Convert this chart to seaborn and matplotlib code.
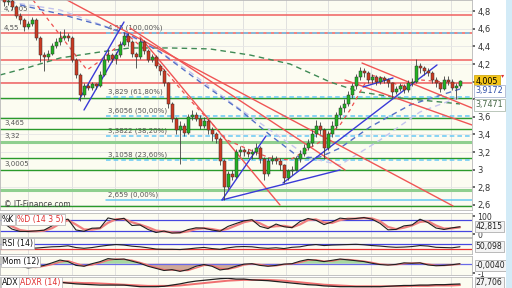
import numpy as np
import pandas as pd
import matplotlib
matplotlib.use("Agg")
import matplotlib.pyplot as plt
import matplotlib.transforms as mtransforms
from matplotlib.patches import Rectangle
import seaborn as sns

sns.set_theme(style="white")
plt.rcParams['font.family'] = ['DejaVu Sans']

# ---------------- data ----------------
first_open = 4.98
closes = [4.90,4.92,4.85,4.75,4.70,4.62,4.66,4.70,4.50,4.30,
          4.28,4.32,4.40,4.45,4.50,4.52,4.50,4.25,4.08,3.85,
          3.95,3.93,3.97,3.95,4.08,4.25,4.30,4.26,4.30,4.42,
          4.52,4.45,4.32,4.28,4.45,4.35,4.25,4.28,4.18,4.12,
          3.98,3.75,3.58,3.45,3.50,3.42,3.60,3.62,3.58,3.50,
          3.55,3.45,3.40,3.35,3.10,2.80,2.95,2.92,3.20,3.22,
          3.20,3.18,3.20,3.25,3.12,2.95,3.10,3.12,3.10,3.05,
          2.90,2.98,3.00,3.12,3.18,3.25,3.30,3.40,3.50,3.45,
          3.25,3.40,3.50,3.62,3.70,3.75,3.85,3.95,4.05,4.12,
          4.10,4.02,4.05,4.00,4.04,4.02,3.98,3.88,3.92,3.95,
          3.90,3.98,4.00,4.18,4.15,4.12,4.10,4.02,3.98,3.92,
          4.02,4.00,3.93,3.95,4.005]
highs = [5.00,4.96,4.94,4.87,4.78,4.72,4.69,4.74,4.72,4.52,
         4.34,4.36,4.44,4.50,4.58,4.60,4.55,4.52,4.27,4.10,
         3.98,3.99,4.00,3.99,4.12,4.30,4.37,4.33,4.34,4.46,
         4.57,4.55,4.47,4.34,4.50,4.47,4.37,4.31,4.30,4.20,
         4.14,4.00,3.77,3.60,3.55,3.53,3.63,3.68,3.66,3.62,
         3.60,3.58,3.48,3.43,3.37,3.12,2.99,3.00,3.24,3.27,
         3.25,3.23,3.24,3.30,3.27,3.14,3.14,3.17,3.15,3.13,
         3.07,3.01,3.04,3.16,3.22,3.29,3.35,3.45,3.56,3.54,
         3.47,3.44,3.55,3.66,3.74,3.80,3.89,3.99,4.09,4.17,
         4.15,4.12,4.09,4.08,4.07,4.06,4.04,4.00,3.95,3.98,
         3.97,4.02,4.04,4.26,4.21,4.18,4.15,4.12,4.05,4.00,
         4.06,4.07,4.03,3.98,4.02]
lows = [4.86,4.87,4.82,4.72,4.66,4.58,4.60,4.63,4.47,4.22,
        4.12,4.25,4.30,4.38,4.42,4.47,4.46,4.22,4.04,3.78,
        3.83,3.90,3.91,3.92,3.94,4.06,4.22,4.22,4.20,4.28,
        4.40,4.40,4.28,4.15,4.26,4.32,4.22,4.22,4.15,4.08,
        3.95,3.70,3.54,3.40,3.07,3.38,3.40,3.56,3.55,3.46,
        3.47,3.40,3.33,3.30,3.05,2.66,2.78,2.88,2.90,3.15,
        3.16,3.14,3.12,3.17,3.08,2.88,2.93,3.07,3.06,3.00,
        2.85,2.88,2.94,2.98,3.09,3.15,3.22,3.27,3.37,3.40,
        3.12,3.22,3.37,3.47,3.58,3.66,3.72,3.82,3.92,4.02,
        4.05,3.98,3.99,3.96,3.97,3.98,3.94,3.82,3.86,3.89,
        3.87,3.88,3.95,3.98,4.10,4.08,4.06,3.98,3.94,3.88,
        3.90,3.96,3.90,3.80,3.93]

# horizontal levels
red_levels = [4.7605, 4.55, 4.247, 3.985]
green_levels = [3.815, 3.587, 3.465, 3.133, 3.0005, 2.588]
green_soft_levels = [3.32, 2.769]
fib_levels = [4.55, 3.829, 3.6056, 3.3822, 3.1058, 2.659]
fib_labels = ["4,55 (100,00%)", "3,829 (61,80%)", "3,6056 (50,00%)",
              "3,3822 (38,20%)", "3,1058 (23,60%)", "2,659 (0,00%)"]
left_label_levels = [4.7605, 4.55, 3.465, 3.32, 3.0005]
left_labels = ["4,7605", "4,55", "3,465", "3,32", "3,0005"]
fib_start_bar = 25.5

# trend lines (bar index, price)
red_tl_x = [[15.75, 112.25], [34, 69], [31.5, 85.25], [89.5, 117], [85.25, 117]]
red_tl_y = [[4.928, 2.588], [4.508, 2.599], [4.610, 2.997], [4.212, 3.701], [4.019, 3.508]]
blue_tl_x = [[18.75, 30], [20, 31], [54.5, 65.5], [54.5, 84], [69.75, 108.25], [89.75, 97.25]]
blue_tl_y = [[3.792, 4.678], [3.678, 4.542], [2.656, 3.383], [2.656, 2.997], [2.849, 4.190], [3.940, 4.042]]

# moving averages (bar, value)
ma_long_x = [-1, 6.5, 14, 24, 31.5, 41.5, 51.5, 61.5, 71.5, 81.5, 89, 99, 106.5, 114]
ma_long_y = [4.076, 4.167, 4.269, 4.337, 4.383, 4.383, 4.372, 4.303, 4.201, 3.997, 3.883, 3.815, 3.781, 3.7471]
ma_mid_x = [4, 14, 24, 31.5, 39, 49, 59, 66.5, 74, 79, 84, 91.5, 101.5, 114]
ma_mid_y = [4.872, 4.769, 4.644, 4.531, 4.337, 3.997, 3.678, 3.394, 3.133, 3.144, 3.246, 3.485, 3.735, 3.9172]
ma_soft_x = [1.5, 14, 26.5, 36.5, 46.5, 56.5, 66.5, 76.5, 84, 94, 104, 114]
ma_soft_y = [4.905, 4.815, 4.610, 4.417, 4.110, 3.769, 3.451, 3.133, 3.053, 3.337, 3.656, 3.826]
ma_short_x = [7.25, 14, 20.75, 23.25, 27.25, 31.5, 37.25, 46.5, 55.75, 61.5, 66.5, 71.5, 79.75, 84, 86.5, 89, 91.5, 95, 99, 104, 109, 114]
ma_short_y = [4.928, 4.531, 4.133, 4.212, 4.360, 4.508, 4.281, 3.792, 3.337, 3.224, 3.133, 3.110, 3.337, 3.508, 3.678, 3.883, 4.076, 4.04, 3.95, 4.02, 4.0, 3.974]

month_starts = [6, 17, 27.75, 38.5, 49.75, 59.75, 70.5, 81, 91.75, 101.75, 111.75]

# indicators, one value every 2 bars
stoch_k = [62,30,17,17,20,24,48,79,85,25,18,35,36,92,82,90,50,53,28,11,
           19,8,10,27,37,35,25,18,45,61,76,82,45,33,58,43,38,72,89,79,
           55,70,91,86,89,94,85,62,26,28,48,53,85,66,36,28,37,42.815]
stoch_d = [66,45,25,18,18,21,35,60,80,55,28,27,34,65,85,86,68,55,40,22,
           17,12,11,18,30,35,30,22,32,50,68,78,62,40,46,48,40,56,80,84,
           67,64,80,88,88,92,89,74,42,30,38,50,70,74,50,33,34,40]
rsi = [38,30,42,38,40,45,50,52,58,44,38,44,54,62,68,64,55,50,42,32,
       30,30,28,33,40,45,36,30,42,50,52,50,42,38,42,36,46,50,62,68,
       60,64,66,68,70,66,60,56,50,46,48,52,60,56,46,44,42,50.098]
mom = [-0.35,-0.2,-0.3,-0.5,-0.4,-0.2,0.1,0.43,0.25,-0.2,-0.3,0.0,0.24,0.6,0.5,0.55,0.3,0.05,-0.3,-0.55,
       -0.8,-0.7,-0.9,-0.7,-0.3,-0.1,-0.3,-0.74,-0.6,-0.3,-0.05,0.0,-0.2,-0.3,-0.2,-0.05,0.0,0.3,0.5,0.4,
       0.25,0.4,0.55,0.45,0.35,0.25,0.05,-0.1,-0.16,-0.08,0.1,0.05,0.1,-0.15,-0.24,-0.2,-0.12,-0.004]
mom_sig = [-0.3,-0.25,-0.25,-0.4,-0.45,-0.3,-0.1,0.2,0.35,0.05,-0.25,-0.15,0.1,0.4,0.55,0.5,0.4,0.15,-0.15,-0.45,
           -0.7,-0.75,-0.8,-0.8,-0.5,-0.2,-0.2,-0.55,-0.65,-0.45,-0.15,-0.02,-0.1,-0.25,-0.25,-0.1,-0.02,0.15,0.4,0.45,
           0.3,0.3,0.5,0.5,0.4,0.3,0.15,-0.05,-0.12,-0.12,0.0,0.08,0.08,-0.05,-0.2,-0.22,-0.15,-0.06]
adx = [25,28,32,34,35,35,34,32,30,28,27,26,25,25,25,25,23,21,21,21,
       22,25,28,32,35,37,39,41,42,40,40,38,37,36,34,32,30,28,26,25,
       23,22,21,21,21,21,21,21,22,23,24,24,25,25,26,26,27,27.706]
adxr = [30,30,30,31,31,32,32,32,31,31,30,30,29,28,27,26,25,24,23,23,
        23,23,24,26,28,30,32,34,36,37,38,38,38,38,37,36,34,32,30,28,
        26,25,24,23,22,22,22,22,22,22,22,23,23,23,24,24,24,25]

# ---------------- figure ----------------
W, H = 512, 288
fig = plt.figure(figsize=(W / 100, H / 100), dpi=100)
fig.patch.set_facecolor("white")
fig.patches.append(Rectangle((506 / W, 0), 6 / W, 1, transform=fig.transFigure,
                             facecolor="#d3ebf7", edgecolor="none", zorder=0))

def rect(x0, y0, x1, y1):
    return [x0 / W, 1 - y1 / H, (x1 - x0) / W, (y1 - y0) / H]

BG = "#fcfcf1"
ax = fig.add_axes(rect(0, 0, 472, 210))
ax1 = fig.add_axes(rect(0, 213, 472, 237))
ax2 = fig.add_axes(rect(0, 238, 472, 254))
ax3 = fig.add_axes(rect(0, 256, 472, 275))
ax4 = fig.add_axes(rect(0, 277, 472, 290))
XL = (-1, 117)
for a in (ax, ax1, ax2, ax3, ax4):
    a.set_facecolor(BG)
    a.set_xlim(*XL)
    a.set_xticks([])
    for s in a.spines.values():
        s.set_color("#b8b8b8")
        s.set_linewidth(0.6)
    for m in month_starts:
        a.axvline(m, color="#dcdcdc", lw=0.6, zorder=0)

# ---- main price panel ----
ax.set_ylim(2.542, 4.928)
yt = np.round(np.arange(2.6, 4.81, 0.2), 1)
ax.yaxis.tick_right()
ax.set_yticks(yt)
hidden = {4.0, 3.8}   # covered by the value boxes in the reference
ax.set_yticklabels([("" if v in hidden else ("%g" % v).replace(".", ",")) for v in yt],
                   fontsize=6, color="#333333")
ax.tick_params(axis="y", length=2, pad=2, colors="#555555", labelcolor="#333333")
for v in yt:
    ax.axhline(v, color="#e6e6e6", lw=0.6, zorder=0)

for v in red_levels:
    ax.axhline(v, color="#f06060", lw=1.1, zorder=1)
for v in green_soft_levels:
    ax.axhline(v, color="#8fcf8f", lw=2.2, zorder=1)
for v in green_levels:
    ax.axhline(v, color="#2a9a2a", lw=1.0, zorder=1)
for i, v in enumerate(fib_levels):
    ls = "-" if i == len(fib_levels) - 1 else (0, (3, 2))
    ax.plot([fib_start_bar, XL[1]], [v, v], color="#66c8f4", lw=1.1, ls=ls, zorder=1.5)
    ax.text(fib_start_bar + 0.5, v + 0.025, fib_labels[i], fontsize=5, color="#555555",
            va="bottom", ha="left", zorder=2)
for v, t in zip(left_label_levels, left_labels):
    ax.text(0.0, v + 0.03, t, fontsize=5, color="#555555", va="bottom", ha="left", zorder=2)

# moving averages
sns.lineplot(x=ma_long_x, y=ma_long_y, ax=ax, color="#3f8a55", lw=1.0,
             linestyle=(0, (4, 3)), sort=False, estimator=None)
sns.lineplot(x=ma_soft_x, y=ma_soft_y, ax=ax, color="#c4c4ee", lw=1.0,
             linestyle=(0, (4, 3)), sort=False, estimator=None)
sns.lineplot(x=ma_mid_x, y=ma_mid_y, ax=ax, color="#5570c8", lw=1.0,
             linestyle=(0, (4, 3)), sort=False, estimator=None)
sns.lineplot(x=ma_short_x, y=ma_short_y, ax=ax, color="#ee5050", lw=0.9,
             linestyle=(0, (3, 3)), sort=False, estimator=None)

for xs, ys in zip(red_tl_x, red_tl_y):
    ax.plot(xs, ys, color="#f05555", lw=1.0, zorder=2)
for xs, ys in zip(blue_tl_x, blue_tl_y):
    ax.plot(xs, ys, color="#3a3ad8", lw=1.0, zorder=2)

# candles
opens = [first_open] + closes[:-1]
bars = np.arange(len(closes))
o = np.array(opens); c = np.array(closes)
up = c >= o
ax.vlines(bars, lows, highs, color="#404040", lw=0.6, zorder=3)
body_lo = np.minimum(o, c)
body_h = np.maximum(np.abs(c - o), 0.008)
ax.bar(bars[up], body_h[up], bottom=body_lo[up], width=0.75, color="#22b222",
       edgecolor="#303030", linewidth=0.35, zorder=4)
ax.bar(bars[~up], body_h[~up], bottom=body_lo[~up], width=0.75, color="#cc3a22",
       edgecolor="#303030", linewidth=0.35, zorder=4)
ax.set_ylim(2.542, 4.928)
ax.set_xlim(*XL)

ax.text(0.0, 2.548, "\u00a9 IT-Finance.com", fontsize=5.5, color="#444444", va="bottom", ha="left", zorder=5)

bt = mtransforms.blended_transform_factory(ax.transAxes, ax.transData)
ax.text(1.008, 4.005, "4,005", transform=bt, fontsize=5.8, color="black", va="center", ha="left",
        clip_on=False, zorder=10,
        bbox=dict(boxstyle="square,pad=0.2", fc="#f5c518", ec="#c9a000", lw=0.5))
ax.text(1.062, 4.075, "\u25be", transform=bt, fontsize=4.5, color="#e03030", va="center", ha="left",
        clip_on=False, zorder=11)
ax.text(1.008, 3.895, "3,9172", transform=bt, fontsize=5.8, color="#3050a8", va="center", ha="left",
        clip_on=False, zorder=10,
        bbox=dict(boxstyle="square,pad=0.2", fc="white", ec="#9aa8c8", lw=0.5))
ax.text(1.008, 3.735, "3,7471", transform=bt, fontsize=5.8, color="#4a6a4a", va="center", ha="left",
        clip_on=False, zorder=10,
        bbox=dict(boxstyle="square,pad=0.2", fc="white", ec="#a0b0a0", lw=0.5))

ix = np.arange(0, 2 * len(stoch_k), 2)

def right_box(a, y, txt):
    t = mtransforms.blended_transform_factory(a.transAxes, a.transData)
    a.text(1.008, y, txt, transform=t, fontsize=5.6, color="#222222", va="center", ha="left",
           clip_on=False, zorder=10,
           bbox=dict(boxstyle="square,pad=0.15", fc="#f4f4f4", ec="#a0a0a0", lw=0.5))

def panel_label(a, parts):
    for txt, col, xpx in parts:
        a.text(xpx / 472, 0.93, txt, transform=a.transAxes, fontsize=5.6, color=col, va="top",
               ha="left", zorder=10,
               bbox=dict(boxstyle="square,pad=0.15", fc="white", ec="#b0b0b0", lw=0.5))

for a in (ax1, ax2, ax3, ax4):
    a.yaxis.tick_right()
    a.tick_params(axis="y", length=2, pad=2, labelsize=5.6, labelcolor="#333333", colors="#555555")

# stochastic
ax1.set_ylim(-13.9, 119.4)
ax1.axhline(80, color="#4646e0", lw=0.9, zorder=1)
ax1.axhline(20, color="#4646e0", lw=0.9, zorder=1)
sns.lineplot(x=ix, y=stoch_d, ax=ax1, color="#f08080", lw=1.6, sort=False, estimator=None)
sns.lineplot(x=ix, y=stoch_k, ax=ax1, color="#202020", lw=0.8, sort=False, estimator=None)
ax1.set_yticks([0, 100]); ax1.set_yticklabels(["0", "100"])
right_box(ax1, 43, "42,815")
panel_label(ax1, [("%K", "#111111", 2), ("%D (14 3 5)", "#e03030", 17)])

# RSI
ax2.set_ylim(-7.6, 120.4)
ax2.axhline(70, color="#4646e0", lw=0.9, zorder=1)
ax2.axhline(30, color="#e83030", lw=0.9, zorder=1)
sns.lineplot(x=ix, y=rsi, ax=ax2, color="#202020", lw=0.8, sort=False, estimator=None)
ax2.set_yticks([])
right_box(ax2, 55, "50,098")
panel_label(ax2, [("RSI (14)", "#111111", 2)])

# Momentum
ax3.set_ylim(-1.33, 0.906)
mom_a = np.array(mom)
ax3.fill_between(ix, mom_a, 0, where=mom_a >= 0, interpolate=True, color="#a6d8a0", zorder=1, lw=0)
ax3.fill_between(ix, mom_a, 0, where=mom_a <= 0, interpolate=True, color="#cfa898", zorder=1, lw=0)
ax3.axhline(0, color="#6a6ae8", lw=0.9, zorder=2)
sns.lineplot(x=ix, y=mom_sig, ax=ax3, color="#f07070", lw=1.0, sort=False, estimator=None)
sns.lineplot(x=ix, y=mom, ax=ax3, color="#202020", lw=0.8, sort=False, estimator=None)
ax3.set_yticks([-1.15]); ax3.set_yticklabels(["-1"])
right_box(ax3, -0.2, "-0,0040")
panel_label(ax3, [("Mom (12)", "#111111", 2)])

# ADX
ax4.set_ylim(12.7, 45.2)
sns.lineplot(x=ix, y=adxr, ax=ax4, color="#f07070", lw=1.4, sort=False, estimator=None)
sns.lineplot(x=ix, y=adx, ax=ax4, color="#202020", lw=0.9, sort=False, estimator=None)
ax4.set_yticks([])
right_box(ax4, 31, "27,706")
panel_label(ax4, [("ADX", "#111111", 2), ("ADXR (14)", "#e03030", 20)])

for a in (ax, ax1, ax2, ax3, ax4):
    a.set_xlabel(""); a.set_ylabel("")
    a.set_xlim(*XL)

fig.savefig("out.png", dpi=100, facecolor="white")
